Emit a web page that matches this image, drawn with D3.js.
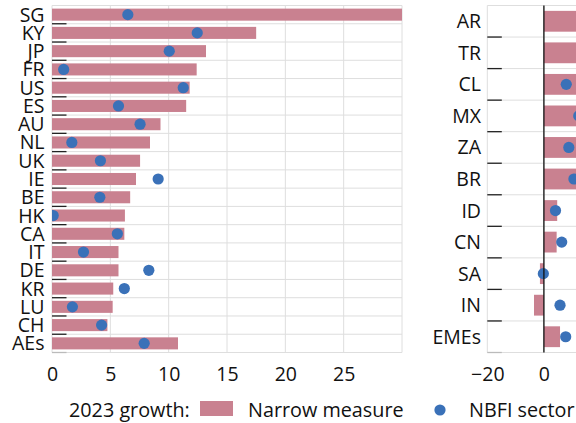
<!DOCTYPE html>
<html>
<head>
<meta charset="utf-8">
<script src="https://cdn.jsdelivr.net/npm/d3@7"></script>
<style>
  body { margin: 0; background: #fff; }
  svg { display: block; font-family: "Open Sans", "Noto Sans", sans-serif; }
</style>
</head>
<body>
<div id="chart"></div>
<script>
const width = 576;
const height = 423;

// advanced economies
const aeCodes = ["SG", "KY", "JP", "FR", "US", "ES", "AU", "NL", "UK", "IE", "BE", "HK", "CA", "IT", "DE", "KR", "LU", "CH", "AEs"];
const aeNarrow = [33, 17.5, 13.2, 12.4, 11.8, 11.5, 9.3, 8.4, 7.55, 7.2, 6.7, 6.25, 6.2, 5.7, 5.7, 5.25, 5.2, 4.75, 10.8];
const aeNbfi = [6.5, 12.45, 10.05, 1.0, 11.25, 5.7, 7.55, 1.7, 4.15, 9.1, 4.1, 0.1, 5.6, 2.7, 8.3, 6.2, 1.75, 4.25, 7.9];

// emerging market economies
const emeCodes = ["AR", "TR", "CL", "MX", "ZA", "BR", "ID", "CN", "SA", "IN", "EMEs"];
const emeNarrow = [110, 60, 25, 20, 18, 15, 4.7, 4.5, -1.4, -3.5, 5.7];
const emeNbfi = [45, 30, 7.9, 12.3, 8.8, 10.6, 4.1, 6.3, -0.2, 5.7, 7.7];

const aeTicks = [0, 5, 10, 15, 20, 25];
const emeTicks = [-20, 0, 20, 40];

const barColor = "#c98190";
const dotColor = "#3a71b8";
const gridColor = "#dedede";

const svg = d3.select("#chart").append("svg")
  .attr("width", width)
  .attr("height", height);

const plotTop = 5.5, plotBottom = 352.5;

function drawPanel(opts) {
  const { codes, narrow, nbfi, xDomain, xRange, ticks, labelX, id, zeroLine } = opts;
  const x = d3.scaleLinear().domain(xDomain).range(xRange);
  const y = d3.scaleBand().domain(codes).range([plotTop, plotBottom]).padding(0);
  const barH = y.step() * 0.66;
  const right = Math.min(xRange[1], width);

  const g = svg.append("g");

  g.append("clipPath").attr("id", id)
    .append("rect")
    .attr("x", xRange[0]).attr("y", plotTop)
    .attr("width", right - xRange[0]).attr("height", plotBottom - plotTop);

  // horizontal grid at row boundaries
  const bounds = codes.map((c) => y(c)).concat([plotBottom]);
  g.selectAll(".hgrid").data(bounds).join("line")
    .attr("x1", xRange[0]).attr("x2", right)
    .attr("y1", (d) => d).attr("y2", (d) => d)
    .attr("stroke", gridColor).attr("stroke-width", 1);

  // vertical grid
  g.selectAll(".vgrid").data(ticks.concat([xDomain[1]]).filter((t) => x(t) <= width))
    .join("line")
    .attr("x1", (d) => x(d)).attr("x2", (d) => x(d))
    .attr("y1", plotTop).attr("y2", plotBottom)
    .attr("stroke", gridColor).attr("stroke-width", 1);

  const plot = g.append("g").attr("clip-path", `url(#${id})`);

  plot.selectAll("rect.bar").data(codes).join("rect")
    .attr("class", "bar")
    .attr("x", (d, i) => x(Math.min(0, narrow[i])))
    .attr("width", (d, i) => Math.abs(x(narrow[i]) - x(0)))
    .attr("y", (d) => y(d) + (y.step() - barH) / 2)
    .attr("height", barH)
    .attr("fill", barColor);

  if (zeroLine) {
    g.append("line")
      .attr("x1", x(0)).attr("x2", x(0))
      .attr("y1", plotTop).attr("y2", plotBottom)
      .attr("stroke", "#111").attr("stroke-width", 1.3);
  }

  plot.selectAll("circle.dot").data(codes).join("circle")
    .attr("class", "dot")
    .attr("cx", (d, i) => x(nbfi[i]))
    .attr("cy", (d) => y(d) + y.step() / 2)
    .attr("r", 5.6)
    .attr("fill", dotColor);

  // short tick marks at row boundaries
  g.selectAll(".rtick").data(bounds.slice(1)).join("line")
    .attr("x1", xRange[0]).attr("x2", xRange[0] + 14.5)
    .attr("y1", (d) => d).attr("y2", (d) => d)
    .attr("stroke", (d, i, n) => (i === n.length - 1 ? "#bbb" : "#222"))
    .attr("stroke-width", 1.3);

  // category labels
  g.selectAll(".clabel").data(codes).join("text")
    .attr("x", labelX)
    .attr("y", (d) => y(d) + y.step() / 2)
    .attr("dy", "0.36em")
    .attr("text-anchor", "end")
    .attr("font-size", 19.5)
    .attr("fill", "#111")
    .text((d) => d);

  // x axis
  const axis = d3.axisBottom(x).tickValues(ticks.filter((t) => x(t) <= width))
    .tickSize(0).tickPadding(0)
    .tickFormat((d) => (d < 0 ? "\u2212" + Math.abs(d) : d));
  const ax = g.append("g").attr("transform", `translate(0,${plotBottom + 10})`).call(axis);
  ax.select(".domain").remove();
  ax.selectAll("text")
    .attr("font-size", 19.5)
    .attr("font-family", "'Open Sans', 'Noto Sans', sans-serif")
    .attr("fill", "#111")
    .attr("dy", "0.95em");
}

drawPanel({
  codes: aeCodes, narrow: aeNarrow, nbfi: aeNbfi,
  xDomain: [0, 30], xRange: [52, 402], ticks: aeTicks,
  labelX: 44.5, id: "clipAE", zeroLine: false,
});

drawPanel({
  codes: emeCodes, narrow: emeNarrow, nbfi: emeNbfi,
  xDomain: [-20, 40], xRange: [487.3, 487.3 + 60 * 2.83], ticks: emeTicks,
  labelX: 481, id: "clipEME", zeroLine: true,
});

// legend
const legend = svg.append("g").attr("font-size", 19.8).attr("fill", "#111");
legend.append("text").attr("x", 69).attr("y", 417).text("2023 growth:");
legend.append("rect").attr("x", 200).attr("y", 401).attr("width", 33).attr("height", 15).attr("fill", barColor);
legend.append("text").attr("x", 248).attr("y", 417).text("Narrow measure");
legend.append("circle").attr("cx", 440).attr("cy", 410).attr("r", 5.6).attr("fill", dotColor);
legend.append("text").attr("x", 469).attr("y", 417).text("NBFI sector");
</script>
</body>
</html>
